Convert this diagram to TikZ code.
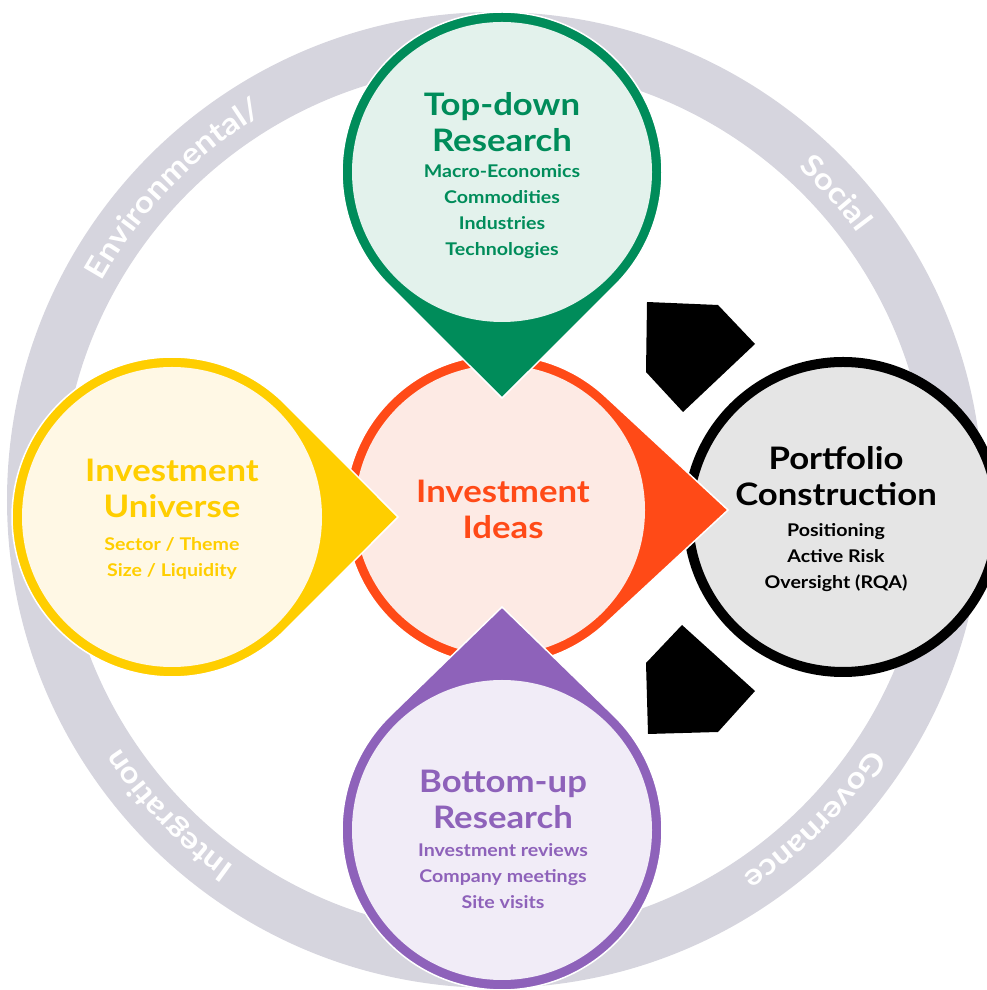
\documentclass[tikz,border=0pt]{standalone}
\usepackage{fontspec}
\setmainfont{Lato}[FakeStretch=1.12]
\usetikzlibrary{decorations.text}

\definecolor{ringgray}{HTML}{D6D5DE}
\definecolor{tdgreen}{HTML}{008C5A}
\definecolor{tdgreenbg}{HTML}{E3F2EC}
\definecolor{iuyellow}{HTML}{FFCE00}
\definecolor{iuyellowbg}{HTML}{FFF8E5}
\definecolor{iiorange}{HTML}{FF4A17}
\definecolor{iiorangebg}{HTML}{FDEAE4}
\definecolor{bupurple}{HTML}{8E62BA}
\definecolor{bupurplebg}{HTML}{F1ECF7}
\definecolor{pcgray}{HTML}{E5E5E5}

% bulle avec pointe : centre, rayon, direction, distance de la pointe, couleur, fond
\newcommand{\pinbubble}[6]{%
  \pgfmathsetmacro{\pinang}{acos(#2/#4)}
  \draw[white, line width=1.5pt, fill=#5] (#1) ++(#3+\pinang:#2)
    arc[start angle=#3+\pinang, end angle=#3+360-\pinang, radius=#2]
    -- ([shift={(#3:#4)}]#1) -- cycle;
  \fill[#6] (#1) circle (#2-10);
}

\tikzset{
  headtxt/.style={font=\bfseries\fontsize{31}{36}\selectfont, align=center},
  subtxt/.style={font=\bfseries\fontsize{17.5}{26}\selectfont, align=center},
  ringlabel/.style={decorate, decoration={text along path, text align=center,
    text color=white, text={|\bfseries\fontsize{30}{30}\selectfont|#1}}}
}

\begin{document}
\begin{tikzpicture}[x=1pt, y=1pt]
    \useasboundingbox (0,0) rectangle (986,990);

    % Anneau
    \coordinate (ring) at (495,490);
    \draw[ringgray, line width=54pt] (ring) circle (461);
    \path[ringlabel={Environmental/}] (ring) ++(176:450) arc[start angle=176, end angle=96, radius=450];
    \path[ringlabel={Social}] (ring) ++(82:450) arc[start angle=82, end angle=2, radius=450];
    \path[ringlabel={Governance}] (ring) ++(-5:450) arc[start angle=-5, end angle=-85, radius=450];
    \path[ringlabel={Integration}] (ring) ++(264:450) arc[start angle=264, end angle=184, radius=450];

    % Centres des bulles
    \coordinate (portfolio) at (843,473);
    \coordinate (ideas) at (500,480);
    \coordinate (universe) at (172,473);
    \coordinate (topdown) at (502,818);
    \coordinate (bottomup) at (502,160);

    % Bulles
    \draw[line width=10pt, fill=pcgray] (portfolio) circle (155);
    \pinbubble{ideas}{155}{0}{228}{iiorange}{iiorangebg}
    \pinbubble{universe}{160}{0}{226}{iuyellow}{iuyellowbg}
    \pinbubble{topdown}{160}{-90}{226}{tdgreen}{tdgreenbg}
    \pinbubble{bottomup}{160}{90}{223}{bupurple}{bupurplebg}

    % Fleches noires
    \fill (647,688) -- (718,685) -- (755,646) -- (683,578) -- (646,618) -- cycle;
    \fill (682,365) -- (755,299) -- (718,258) -- (648,256) -- (646,327) -- cycle;

    % Textes
    \node[headtxt, text=tdgreen] (tdhead) at (502,868) {Top-down\\Research};
    \node[subtxt, text=tdgreen] (tdsub) at (502,778) {Macro-Economics\\Commodities\\Industries\\Technologies};
    \node[headtxt, text=iuyellow] (iuhead) at (172,502) {Investment\\Universe};
    \node[subtxt, text=iuyellow] (iusub) at (172,432) {Sector / Theme\\Size / Liquidity};
    \node[headtxt, text=iiorange] (iihead) at (503,481) {Investment\\Ideas};
    \node[headtxt] (pchead) at (836,514) {Portfolio\\Construction};
    \node[subtxt] (pcsub) at (836,432) {Positioning\\Active Risk\\Oversight (RQA)};
    \node[headtxt, text=bupurple] (buhead) at (503,191) {Bottom-up\\Research};
    \node[subtxt, text=bupurple] (busub) at (503,114) {Investment reviews\\Company meetings\\Site visits};
\end{tikzpicture}
\end{document}
